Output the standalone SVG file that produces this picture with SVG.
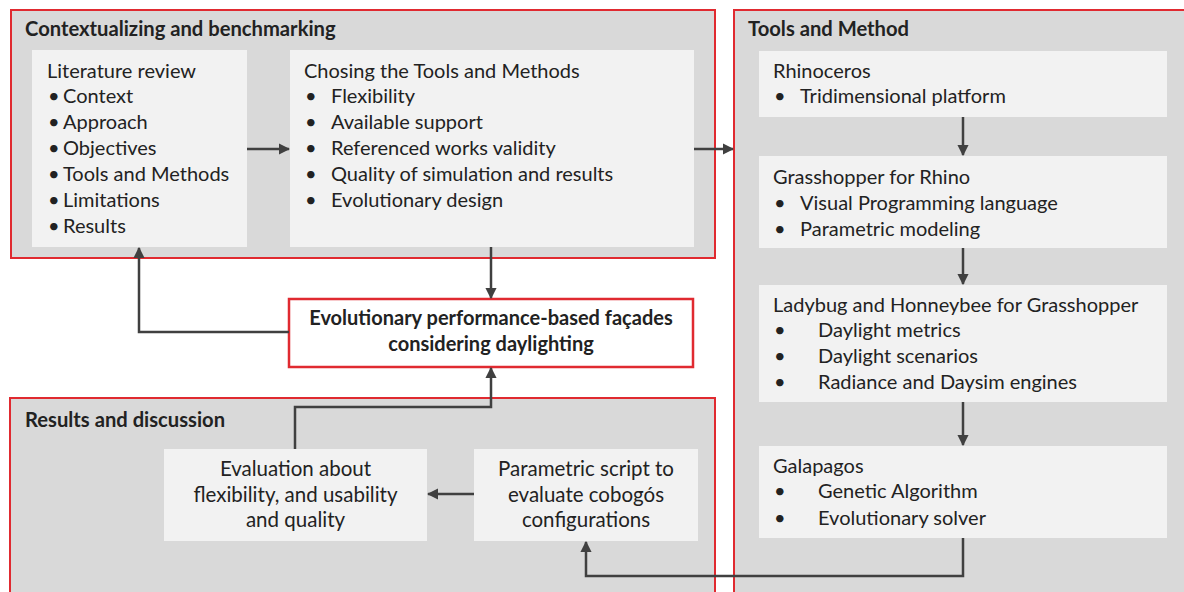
<svg xmlns="http://www.w3.org/2000/svg" width="1184" height="592" viewBox="0 0 1184 592">
<style>
.cont{fill:#d9d9d9;stroke:#e02a30;stroke-width:2}
.box{fill:#f2f2f2}
.main{fill:#ffffff;stroke:#e02a30;stroke-width:2.5}
text{font-family:Lato,"Liberation Sans",sans-serif;fill:#222222}
.t{font-size:20px}
.h{font-size:20.2px;font-weight:bold}
.c{font-size:20.5px;text-anchor:middle}
.m{font-size:20px;font-weight:bold;text-anchor:middle}
.ln{fill:none;stroke:#404040;stroke-width:2.5}
</style>
<defs>
<marker id="ah" viewBox="0 0 10 10" refX="9" refY="5" markerWidth="4.6" markerHeight="4.6" orient="auto" markerUnits="strokeWidth">
<path d="M0,0 L10,5 L0,10 z" fill="#404040"/>
</marker>
</defs>
<rect width="1184" height="592" fill="#ffffff"/>

<g id="ctx">
<rect class="cont" x="11" y="10" width="704" height="248"/>
<text class="h" x="25" y="36">Contextualizing and benchmarking</text>
</g>
<g id="tools">
<rect class="cont" x="734" y="10" width="460" height="600"/>
<text class="h" x="748" y="36">Tools and Method</text>
</g>
<g id="results">
<rect class="cont" x="10" y="398" width="705" height="220"/>
<text class="h" x="25" y="427">Results and discussion</text>
</g>

<g id="lit">
<rect class="box" x="32" y="50" width="215" height="197"/>
<text class="t" x="47" y="78">Literature review</text>
<text class="t" x="48" y="103">•</text><text class="t" x="63" y="103">Context</text>
<text class="t" x="48" y="129">•</text><text class="t" x="63" y="129">Approach</text>
<text class="t" x="48" y="155">•</text><text class="t" x="63" y="155">Objectives</text>
<text class="t" x="48" y="181">•</text><text class="t" x="63" y="181">Tools and Methods</text>
<text class="t" x="48" y="207">•</text><text class="t" x="63" y="207">Limitations</text>
<text class="t" x="48" y="233">•</text><text class="t" x="63" y="233">Results</text>
</g>
<g id="chosing">
<rect class="box" x="290" y="50" width="404" height="197"/>
<text class="t" x="304" y="78">Chosing the Tools and Methods</text>
<text class="t" x="305" y="103">•</text><text class="t" x="331" y="103">Flexibility</text>
<text class="t" x="305" y="129">•</text><text class="t" x="331" y="129">Available support</text>
<text class="t" x="305" y="155">•</text><text class="t" x="331" y="155">Referenced works validity</text>
<text class="t" x="305" y="181">•</text><text class="t" x="331" y="181">Quality of simulation and results</text>
<text class="t" x="305" y="207">•</text><text class="t" x="331" y="207">Evolutionary design</text>
</g>

<g id="center">
<rect class="main" x="289" y="299" width="404" height="68"/>
<text class="m" x="491" y="325">Evolutionary performance-based façades</text>
<text class="m" x="491" y="351">considering daylighting</text>
</g>

<g id="rhino">
<rect class="box" x="759" y="51" width="408" height="66"/>
<text class="t" x="773" y="78">Rhinoceros</text>
<text class="t" x="774" y="103">•</text><text class="t" x="800" y="103">Tridimensional platform</text>
</g>
<g id="grass">
<rect class="box" x="759" y="156" width="408" height="92"/>
<text class="t" x="773" y="184">Grasshopper for Rhino</text>
<text class="t" x="774" y="210">•</text><text class="t" x="800" y="210">Visual Programming language</text>
<text class="t" x="774" y="236">•</text><text class="t" x="800" y="236">Parametric modeling</text>
</g>
<g id="lady">
<rect class="box" x="759" y="285" width="408" height="117"/>
<text class="t" x="773" y="312">Ladybug and Honneybee for Grasshopper</text>
<text class="t" x="774" y="337">•</text><text class="t" x="818" y="337">Daylight metrics</text>
<text class="t" x="774" y="363">•</text><text class="t" x="818" y="363">Daylight scenarios</text>
<text class="t" x="774" y="389">•</text><text class="t" x="818" y="389">Radiance and Daysim engines</text>
</g>
<g id="gala">
<rect class="box" x="759" y="446" width="408" height="92"/>
<text class="t" x="773" y="473">Galapagos</text>
<text class="t" x="774" y="498">•</text><text class="t" x="818" y="498">Genetic Algorithm</text>
<text class="t" x="774" y="525">•</text><text class="t" x="818" y="525">Evolutionary solver</text>
</g>

<g id="eval">
<rect class="box" x="164" y="449" width="263" height="92"/>
<text class="c" x="295.5" y="476">Evaluation about</text>
<text class="c" x="295.5" y="502">flexibility, and usability</text>
<text class="c" x="295.5" y="527">and quality</text>
</g>
<g id="param">
<rect class="box" x="474" y="449" width="224" height="92"/>
<text class="c" x="586" y="476">Parametric script to</text>
<text class="c" x="586" y="502">evaluate cobogós</text>
<text class="c" x="586" y="527">configurations</text>
</g>

<g id="connectors">
<path class="ln" d="M247,149 H289" marker-end="url(#ah)"/>
<path class="ln" d="M694,149 H733" marker-end="url(#ah)"/>
<path class="ln" d="M491,247 V298" marker-end="url(#ah)"/>
<path class="ln" d="M289,332 H139 V248" marker-end="url(#ah)"/>
<path class="ln" d="M963,117 V155" marker-end="url(#ah)"/>
<path class="ln" d="M963,248 V284" marker-end="url(#ah)"/>
<path class="ln" d="M963,402 V445" marker-end="url(#ah)"/>
<path class="ln" d="M963,538 V576 H586 V542" marker-end="url(#ah)"/>
<path class="ln" d="M474,494 H428" marker-end="url(#ah)"/>
<path class="ln" d="M295,449 V407 H491 V368" marker-end="url(#ah)"/>
</g>
</svg>
